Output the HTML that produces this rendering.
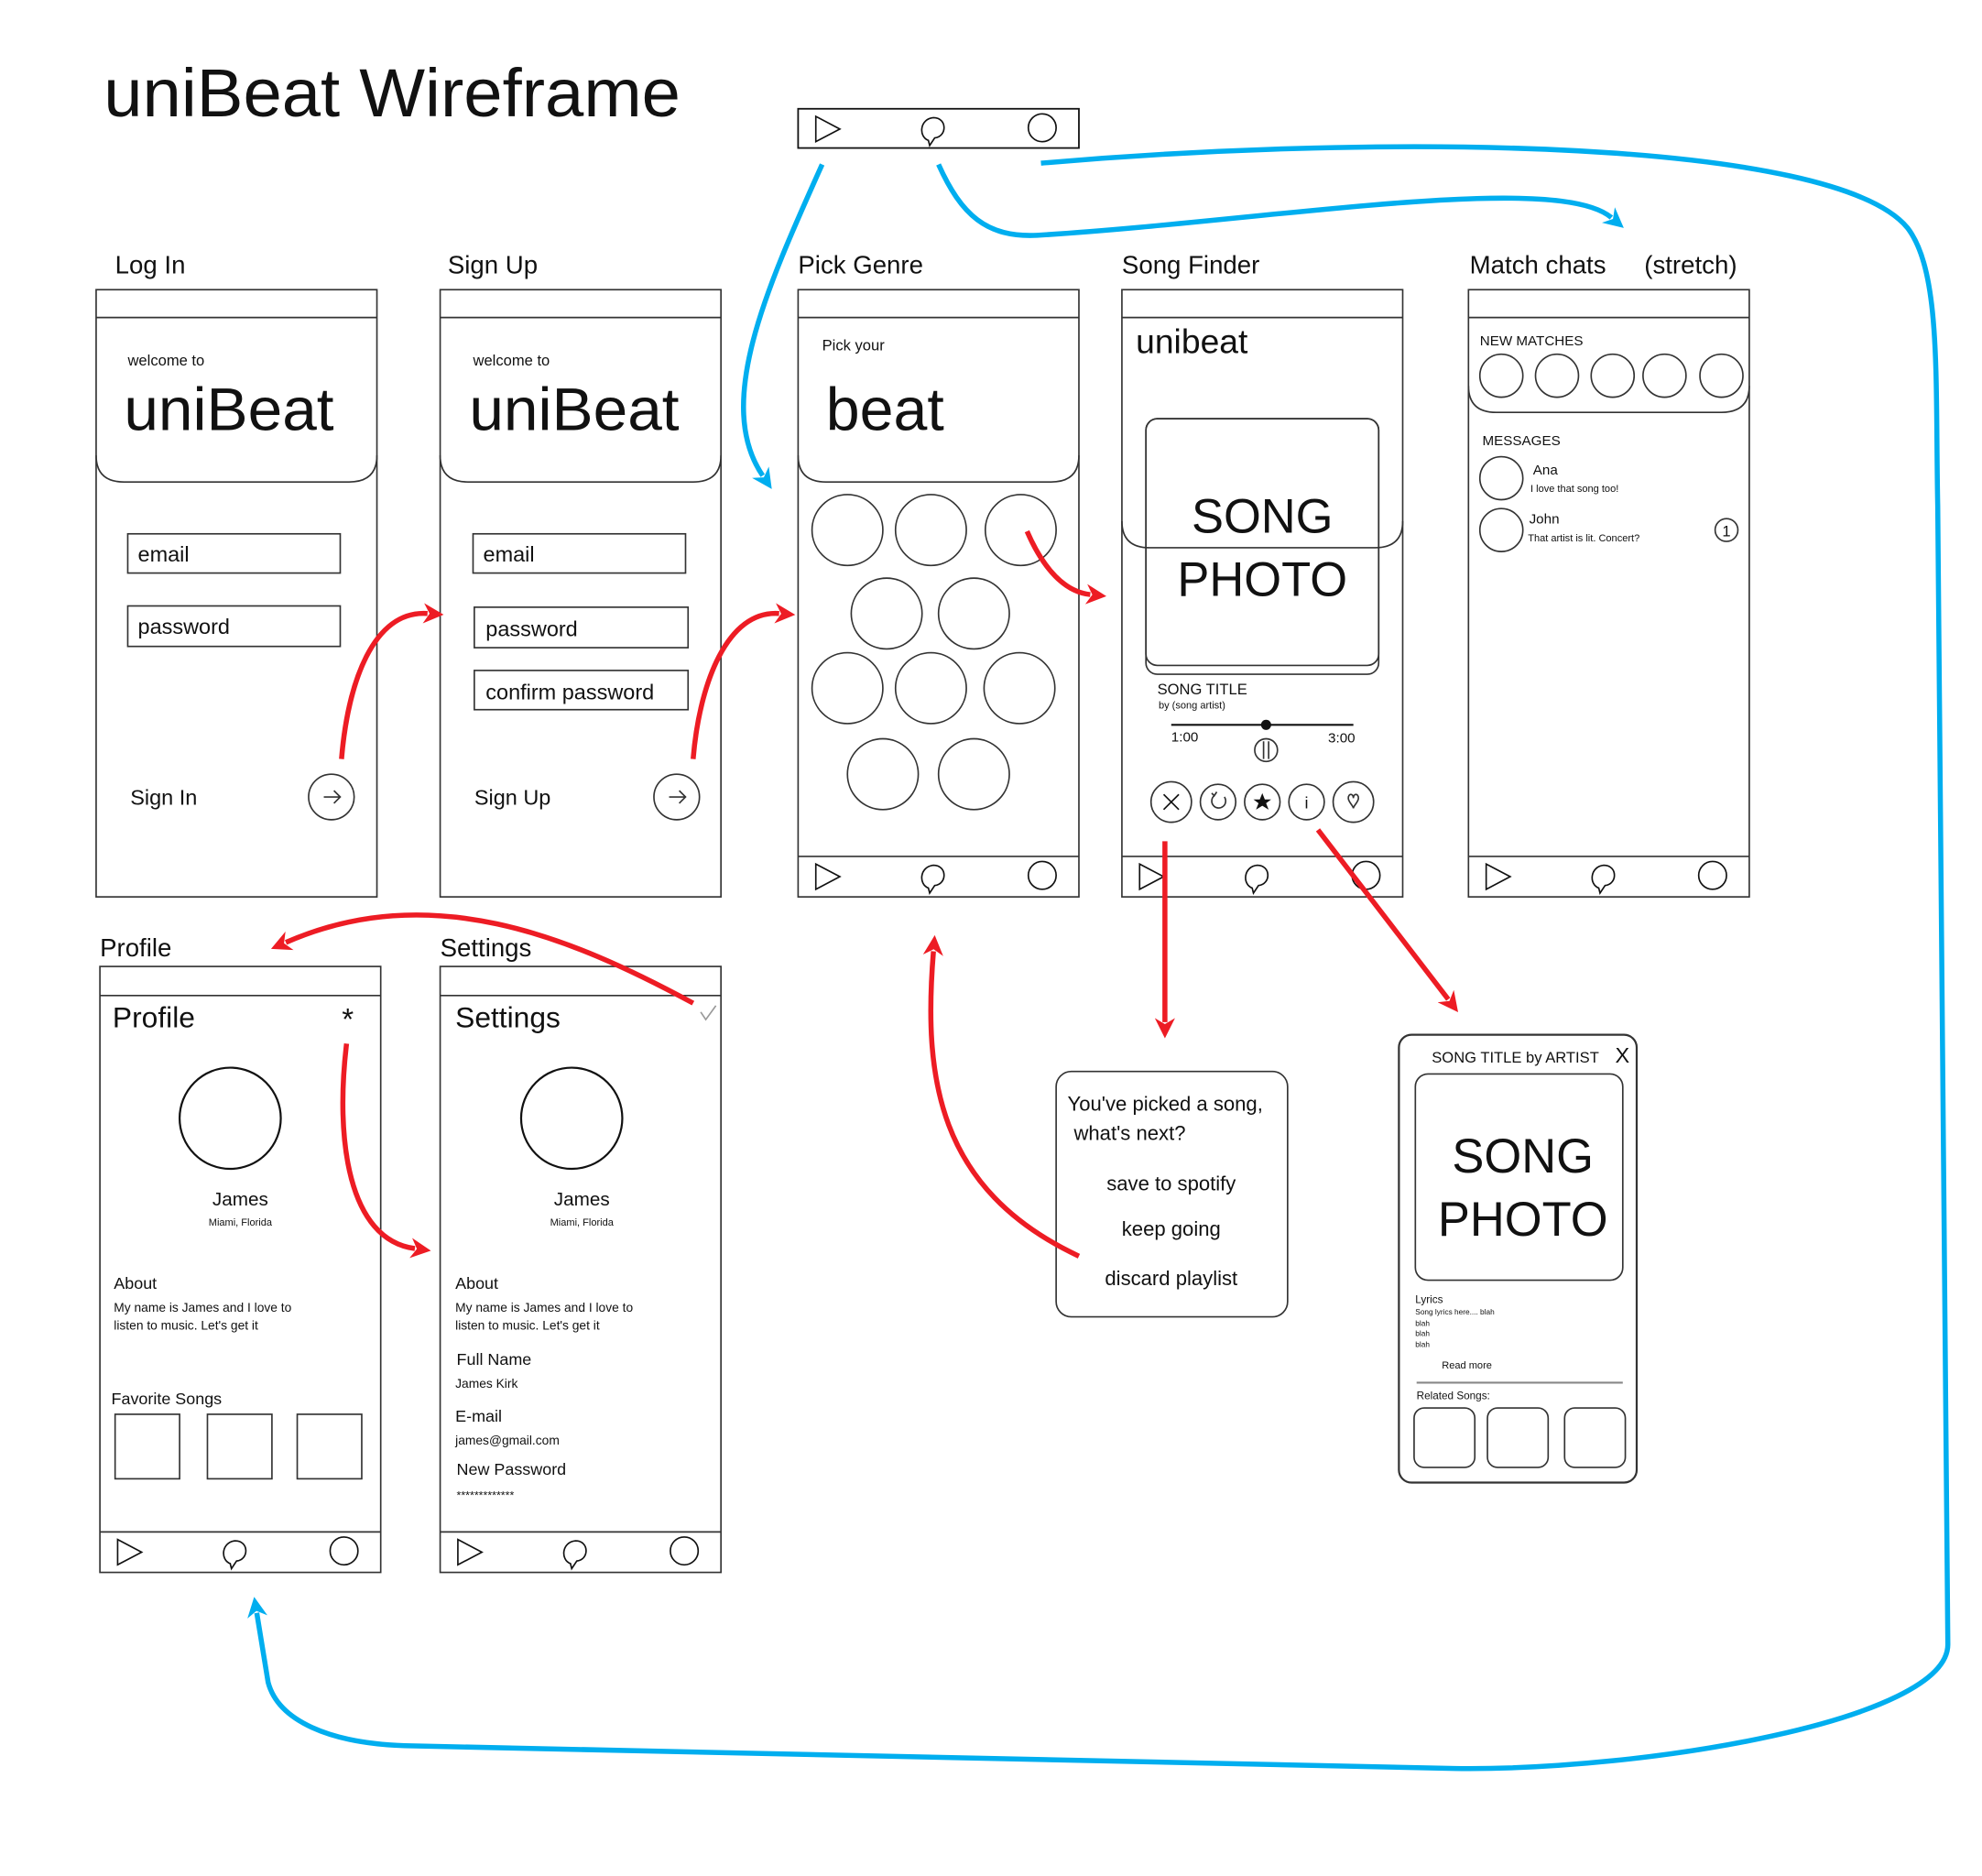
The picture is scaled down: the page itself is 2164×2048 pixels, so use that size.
<!DOCTYPE html>
<html><head><meta charset="utf-8"><style>
html,body{margin:0;padding:0;background:#fff;}
svg{display:block;}
text{font-family:"Liberation Sans",sans-serif;fill:#111;}
</style></head><body>
<svg width="2164" height="2048" viewBox="0 0 1567 1483" preserveAspectRatio="none" xmlns="http://www.w3.org/2000/svg">
<defs>
<marker id="r" viewBox="0 0 10 10" refX="2" refY="5" markerWidth="4" markerHeight="4" orient="auto" markerUnits="strokeWidth"><path d="M0,0 L10,5 L0,10 L3,5 z" fill="#ED1C24"/></marker>
<marker id="b" viewBox="0 0 10 10" refX="2" refY="5" markerWidth="4" markerHeight="4" orient="auto" markerUnits="strokeWidth"><path d="M0,0 L10,5 L0,10 L3,5 z" fill="#00AEEF"/></marker>
<g id="nav"><path d="M14,8 L33,18 L14,28 z" fill="none" stroke="#111" stroke-width="1.2"/><path d="M103,27 C95,24 96,10 107,9 C118,9 118,24 108,25 L104,31 z" fill="none" stroke="#111" stroke-width="1.2"/><circle cx="193" cy="17" r="11" fill="none" stroke="#111" stroke-width="1.2"/></g>
</defs>
<rect width="1567" height="1483" fill="#fff"/>
<text x="82" y="92" font-size="54" textLength="456" lengthAdjust="spacingAndGlyphs">uniBeat Wireframe</text>

<rect x="631" y="86" width="222" height="31" fill="none" stroke="#111" stroke-width="1.3"/>
<use href="#nav" x="631" y="84"/>

<g font-size="20">
<text x="91" y="216">Log In</text><text x="354" y="216">Sign Up</text><text x="631" y="216">Pick Genre</text>
<text x="887" y="216">Song Finder</text><text x="1162" y="216">Match chats</text><text x="1300" y="216">(stretch)</text>
<text x="79" y="756">Profile</text><text x="348" y="756">Settings</text>
</g>

<g fill="none" stroke="#333" stroke-width="1.2">
<rect x="76" y="229" width="222" height="480"/><line x1="76" y1="251" x2="298" y2="251"/>
<rect x="348" y="229" width="222" height="480"/><line x1="348" y1="251" x2="570" y2="251"/>
<rect x="631" y="229" width="222" height="480"/><line x1="631" y1="251" x2="853" y2="251"/><line x1="631" y1="677" x2="853" y2="677"/>
<rect x="887" y="229" width="222" height="480"/><line x1="887" y1="251" x2="1109" y2="251"/><line x1="887" y1="677" x2="1109" y2="677"/>
<rect x="1161" y="229" width="222" height="480"/><line x1="1161" y1="251" x2="1383" y2="251"/><line x1="1161" y1="677" x2="1383" y2="677"/>
<path d="M76,360 Q76,381 98,381 H276 Q298,381 298,360"/>
<path d="M348,360 Q348,381 370,381 H548 Q570,381 570,360"/>
<path d="M631,360 Q631,381 653,381 H831 Q853,381 853,360"/>
<path d="M887,412 Q887,433 909,433 H1087 Q1109,433 1109,412"/>
<path d="M1161,305 Q1161,326 1183,326 H1361 Q1383,326 1383,305"/>
<rect x="79" y="764" width="222" height="479"/><line x1="79" y1="787" x2="301" y2="787"/><line x1="79" y1="1211" x2="301" y2="1211"/>
<rect x="348" y="764" width="222" height="479"/><line x1="348" y1="787" x2="570" y2="787"/><line x1="348" y1="1211" x2="570" y2="1211"/>
<rect x="101" y="422" width="168" height="31"/><rect x="101" y="479" width="168" height="32"/>
<rect x="374" y="422" width="168" height="31"/><rect x="375" y="480" width="169" height="32"/><rect x="375" y="530" width="169" height="31"/>
<circle cx="262" cy="630" r="18"/><circle cx="535" cy="630" r="18"/>
<circle cx="670" cy="419" r="28"/><circle cx="736" cy="419" r="28"/><circle cx="807" cy="419" r="28"/>
<circle cx="701" cy="485" r="28"/><circle cx="770" cy="485" r="28"/>
<circle cx="670" cy="544" r="28"/><circle cx="736" cy="544" r="28"/><circle cx="806" cy="544" r="28"/>
<circle cx="698" cy="612" r="28"/><circle cx="770" cy="612" r="28"/>
<rect x="906" y="331" width="184" height="202" rx="9"/><rect x="906" y="331" width="184" height="195" rx="9"/>
<line x1="926" y1="573" x2="1070" y2="573" stroke="#111" stroke-width="1.5"/>
<circle cx="1001" cy="593" r="9"/>
<circle cx="926" cy="634" r="16"/><circle cx="963" cy="634" r="14"/><circle cx="998" cy="634" r="14"/><circle cx="1033" cy="634" r="14"/><circle cx="1070" cy="634" r="16"/>
<circle cx="1187" cy="297" r="17"/><circle cx="1231" cy="297" r="17"/><circle cx="1275" cy="297" r="17"/><circle cx="1316" cy="297" r="17"/><circle cx="1361" cy="297" r="17"/>
<circle cx="1187" cy="378" r="17"/><circle cx="1187" cy="419" r="17"/><circle cx="1365" cy="419" r="9"/>
<circle cx="182" cy="884" r="40" stroke="#111" stroke-width="1.6"/><circle cx="452" cy="884" r="40" stroke="#111" stroke-width="1.6"/>
<rect x="91" y="1118" width="51" height="51"/><rect x="164" y="1118" width="51" height="51"/><rect x="235" y="1118" width="51" height="51"/>
<rect x="835" y="847" width="183" height="194" rx="12"/>
<rect x="1106" y="818" width="188" height="354" rx="10" stroke-width="1.6"/>
<rect x="1119" y="849" width="164" height="163" rx="10"/>
<line x1="1120" y1="1093" x2="1283" y2="1093" stroke="#888" stroke-width="1.5"/>
<rect x="1118" y="1113" width="48" height="47" rx="8"/><rect x="1176" y="1113" width="48" height="47" rx="8"/><rect x="1237" y="1113" width="48" height="47" rx="8"/>
<path d="M256,630 H269 M264,625 L269,630 L264,635"/><path d="M529,630 H542 M537,625 L542,630 L537,635"/>
<line x1="999" y1="586" x2="999" y2="600"/><line x1="1003" y1="586" x2="1003" y2="600"/>
<path d="M920,628 L932,640 M932,628 L920,640" stroke="#111"/>
<path d="M968,630 A5.5,5.5 0 1 1 960,629 M958,627 L960,629 L962,626"/>
<path d="M1066,631 C1066,627 1070,627 1070,631 C1070,627 1074,627 1074,631 C1074,634 1070,637 1070,639 C1070,637 1066,634 1066,631 z"/>
<path d="M554,800 L558,806 L566,795" stroke="#999"/>
</g>
<path d="M998,627 L1000,632 L1005,632 L1001,635 L1003,640 L998,637 L993,640 L995,635 L991,632 L996,632 z" fill="#111"/>
<circle cx="1001" cy="573" r="4" fill="#111"/>
<text x="1033" y="639" font-size="13" text-anchor="middle">i</text>
<text x="1365" y="424" font-size="12" text-anchor="middle">1</text>

<use href="#nav" x="631" y="675"/><use href="#nav" x="887" y="675"/><use href="#nav" x="1161" y="675"/>
<use href="#nav" x="79" y="1209"/><use href="#nav" x="348" y="1209"/>

<text x="101" y="289" font-size="12">welcome to</text><text x="98" y="340" font-size="48" textLength="166" lengthAdjust="spacingAndGlyphs">uniBeat</text>
<text x="374" y="289" font-size="12">welcome to</text><text x="371" y="340" font-size="48" textLength="166" lengthAdjust="spacingAndGlyphs">uniBeat</text>
<g font-size="17"><text x="109" y="444">email</text><text x="109" y="501">password</text><text x="382" y="444">email</text><text x="384" y="503">password</text><text x="384" y="553">confirm password</text><text x="103" y="636">Sign In</text><text x="375" y="636">Sign Up</text></g>
<text x="650" y="277" font-size="12">Pick your</text><text x="653" y="340" font-size="48">beat</text>
<text x="898" y="279" font-size="27">unibeat</text>
<text x="998" y="421" font-size="38" text-anchor="middle">SONG</text><text x="998" y="471" font-size="38" text-anchor="middle">PHOTO</text>
<text x="915" y="549" font-size="12">SONG TITLE</text><text x="916" y="560" font-size="8">by (song artist)</text>
<text x="926" y="586" font-size="11">1:00</text><text x="1050" y="587" font-size="11">3:00</text>
<text x="1170" y="273" font-size="11">NEW MATCHES</text><text x="1172" y="352" font-size="11">MESSAGES</text>
<text x="1212" y="375" font-size="11">Ana</text><text x="1210" y="389" font-size="8">I love that song too!</text>
<text x="1209" y="414" font-size="11">John</text><text x="1208" y="428" font-size="8">That artist is lit. Concert?</text>
<text x="89" y="812" font-size="23">Profile</text><text x="275" y="814" font-size="24" text-anchor="middle">*</text>
<text x="360" y="812" font-size="23">Settings</text>
<text x="190" y="953" font-size="15" text-anchor="middle">James</text><text x="190" y="969" font-size="8" text-anchor="middle">Miami, Florida</text>
<text x="460" y="953" font-size="15" text-anchor="middle">James</text><text x="460" y="969" font-size="8" text-anchor="middle">Miami, Florida</text>
<g font-size="13"><text x="90" y="1019">About</text><text x="360" y="1019">About</text><text x="88" y="1110">Favorite Songs</text><text x="361" y="1079">Full Name</text><text x="360" y="1124">E-mail</text><text x="361" y="1166">New Password</text></g>
<g font-size="10"><text x="90" y="1037">My name is James and I love to</text><text x="90" y="1051">listen to music. Let's get it</text>
<text x="360" y="1037">My name is James and I love to</text><text x="360" y="1051">listen to music. Let's get it</text>
<text x="360" y="1097">James Kirk</text><text x="360" y="1142">james@gmail.com</text><text x="361" y="1185" font-size="9">*************</text></g>
<g font-size="16"><text x="844" y="878">You've picked a song,</text><text x="849" y="901">what's next?</text>
<text x="926" y="941" text-anchor="middle">save to spotify</text><text x="926" y="977" text-anchor="middle">keep going</text><text x="926" y="1016" text-anchor="middle">discard playlist</text></g>
<text x="1132" y="840" font-size="12">SONG TITLE by ARTIST</text><text x="1277" y="840" font-size="17">X</text>
<text x="1204" y="927" font-size="38" text-anchor="middle">SONG</text><text x="1204" y="977" font-size="38" text-anchor="middle">PHOTO</text>
<text x="1119" y="1030" font-size="8.5">Lyrics</text>
<g font-size="6"><text x="1119" y="1039">Song lyrics here.... blah</text><text x="1119" y="1048">blah</text><text x="1119" y="1056">blah</text><text x="1119" y="1065">blah</text></g>
<text x="1140" y="1082" font-size="8">Read more</text><text x="1120" y="1106" font-size="8.5">Related Songs:</text>

<g fill="none" stroke="#00AEEF" stroke-width="4">
<path d="M650,130 C605,230 565,320 603,376" marker-end="url(#b)"/>
<path d="M742,130 C760,170 780,188 820,186 C1000,175 1230,135 1274,172" marker-end="url(#b)"/>
<path d="M823,129 C1100,105 1450,110 1508,180 C1535,215 1530,300 1532,400 L1540,1300 C1540,1360 1300,1400 1150,1398 L320,1380 C260,1378 220,1360 212,1330 L203,1275" marker-end="url(#b)"/>
</g>
<g fill="none" stroke="#ED1C24" stroke-width="4">
<path d="M270,600 C275,540 295,482 338,485" marker-end="url(#r)"/>
<path d="M548,600 C553,540 575,482 616,485" marker-end="url(#r)"/>
<path d="M812,420 C825,450 842,468 862,470" marker-end="url(#r)"/>
<path d="M921,665 V808" marker-end="url(#r)"/>
<path d="M1042,656 L1145,790" marker-end="url(#r)"/>
<path d="M548,793 C450,740 340,695 226,745" marker-end="url(#r)"/>
<path d="M274,825 C265,900 275,980 328,987" marker-end="url(#r)"/>
<path d="M853,993 C740,940 730,850 738,752" marker-end="url(#r)"/>
</g>
</svg>
</body></html>
